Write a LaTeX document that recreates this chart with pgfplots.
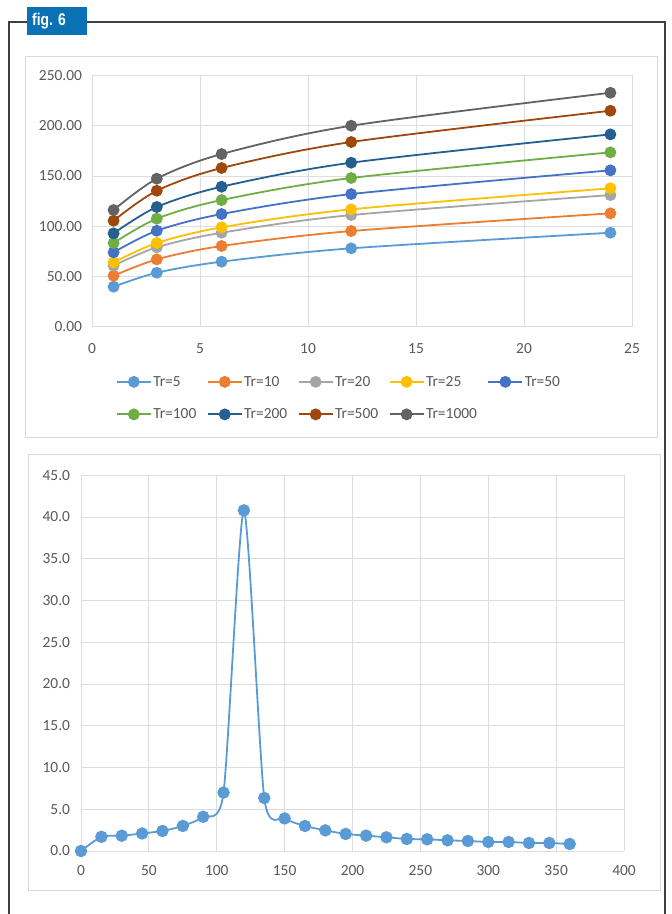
\documentclass[border=0pt]{standalone}
\usepackage{fontspec}
\setmainfont{Carlito}
\newfontfamily\figfont[FakeStretch=0.82]{Liberation Sans}
\usepackage{pgfplots}
\pgfplotsset{compat=1.18}
\definecolor{cA}{HTML}{5B9BD5}
\definecolor{cB}{HTML}{ED7D31}
\definecolor{cC}{HTML}{A5A5A5}
\definecolor{cD}{HTML}{FFC000}
\definecolor{cE}{HTML}{4472C4}
\definecolor{cF}{HTML}{70AD47}
\definecolor{cG}{HTML}{255E91}
\definecolor{cH}{HTML}{9E480E}
\definecolor{cI}{HTML}{636363}
\definecolor{gridgray}{HTML}{DDDDDD}
\definecolor{labgray}{HTML}{595959}
\definecolor{panelgray}{HTML}{D9D9D9}
\definecolor{framegray}{HTML}{404040}
\definecolor{figblue}{HTML}{0A72B4}
\pgfplotsset{
  exstyle/.style={
    scale only axis, clip=false,
    axis line style={draw=none},
    grid=major,
    major grid style={draw=gridgray, line width=0.9bp},
    major tick length=0pt,
    tick style={draw=none},
    ticklabel style={font=\fontsize{15.5}{18}\selectfont, text=labgray},
    /pgf/number format/assume math mode=true,
  },
}
\begin{document}
\begin{tikzpicture}
\path[use as bounding box] (0,0) rectangle (672bp,914bp);
% outer frame
\draw[line width=2bp, framegray] (9bp,-10bp) -- (9bp,892bp) -- (665bp,892bp) -- (665bp,-10bp);
\fill[figblue] (27bp,879bp) rectangle (87bp,907bp);
\node[anchor=west, text=white, font=\figfont\bfseries\fontsize{17}{19}\selectfont, inner sep=0] at (32bp,893bp) {fig. 6};
% panels
\draw[panelgray, line width=1bp, fill=white] (25bp,476bp) rectangle (657bp,857bp);
\draw[panelgray, line width=1bp, fill=white] (28bp,23bp) rectangle (660bp,459bp);

\begin{axis}[exstyle,
  at={(92bp,587.3bp)}, anchor=south west,
  width=540bp, height=251.2bp,
  xmin=0, xmax=25, ymin=0, ymax=250,
  xtick={0,5,...,25}, ytick={0,50,...,250},
  y tick label style={/pgf/number format/fixed, /pgf/number format/fixed zerofill, /pgf/number format/precision=2, xshift=-6.5bp},
  x tick label style={yshift=-13bp},
  legend columns=5,
  legend cell align=left,
  legend image code/.code={\draw[mark repeat=2,mark phase=2,#1] plot coordinates {(0bp,0bp) (17bp,0bp) (34bp,0bp)};},
  legend style={at={(axis description cs:0.044,-0.19)}, anchor=north west, draw=none, fill=none, inner sep=0pt,
    font=\fontsize{15.5}{18}\selectfont, text=labgray, row sep=18bp,
    nodes={inner sep=1.5bp},
    /tikz/every even column/.append style={column sep=9bp}},
]
\addplot[cA, line width=1.8bp, smooth, mark=*, mark size=5bp, mark options={fill=cA, draw=cA}] coordinates {(1,39.8)(3,53.7)(6,64.7)(12,78.0)(24,93.5)};
\addlegendentry{Tr=5}
\addplot[cB, line width=1.8bp, smooth, mark=*, mark size=5bp, mark options={fill=cB, draw=cB}] coordinates {(1,50.7)(3,67.0)(6,80.3)(12,95.2)(24,112.8)};
\addlegendentry{Tr=10}
\addplot[cC, line width=1.8bp, smooth, mark=*, mark size=5bp, mark options={fill=cC, draw=cC}] coordinates {(1,60.7)(3,79.0)(6,93.5)(12,111.1)(24,131.0)};
\addlegendentry{Tr=20}
\addplot[cD, line width=1.8bp, smooth, mark=*, mark size=5bp, mark options={fill=cD, draw=cD}] coordinates {(1,64.0)(3,83.3)(6,98.9)(12,116.8)(24,137.7)};
\addlegendentry{Tr=25}
\addplot[cE, line width=1.8bp, smooth, mark=*, mark size=5bp, mark options={fill=cE, draw=cE}] coordinates {(1,74.0)(3,95.5)(6,112.1)(12,132.0)(24,155.6)};
\addlegendentry{Tr=50}
\addplot[cF, line width=1.8bp, smooth, mark=*, mark size=5bp, mark options={fill=cF, draw=cF}] coordinates {(1,83.3)(3,107.5)(6,126.0)(12,148.0)(24,173.5)};
\addlegendentry{Tr=100}
\addplot[cG, line width=1.8bp, smooth, mark=*, mark size=5bp, mark options={fill=cG, draw=cG}] coordinates {(1,92.9)(3,119.1)(6,139.3)(12,163.2)(24,191.4)};
\addlegendentry{Tr=200}
\addplot[cH, line width=1.8bp, smooth, mark=*, mark size=5bp, mark options={fill=cH, draw=cH}] coordinates {(1,105.5)(3,135.3)(6,157.9)(12,183.8)(24,214.9)};
\addlegendentry{Tr=500}
\addplot[cI, line width=1.8bp, smooth, mark=*, mark size=5bp, mark options={fill=cI, draw=cI}] coordinates {(1,116.1)(3,147.3)(6,171.8)(12,200.0)(24,232.8)};
\addlegendentry{Tr=1000}
\end{axis}

\begin{axis}[exstyle,
  at={(81bp,63bp)}, anchor=south west,
  width=543bp, height=375.7bp,
  xmin=0, xmax=400, ymin=0, ymax=45,
  xtick={0,50,...,400}, ytick={0,5,...,45},
  y tick label style={/pgf/number format/fixed, /pgf/number format/fixed zerofill, /pgf/number format/precision=1, xshift=-7.5bp},
  x tick label style={yshift=-10.5bp},
]
\addplot[cA, line width=1.8bp, smooth, tension=0.4, mark=*, mark size=5.3bp, mark options={fill=cA, draw=cA}] coordinates {
(0,0.0)(15,1.7)(30,1.83)(45,2.1)(60,2.4)(75,3.0)(90,4.1)(105,7.0)(120,40.8)(135,6.35)
(150,3.9)(165,3.0)(180,2.47)(195,2.04)(210,1.84)(225,1.64)(240,1.44)(255,1.4)(270,1.28)
(285,1.2)(300,1.08)(315,1.08)(330,0.96)(345,0.96)(360,0.84)};
\end{axis}
\end{tikzpicture}
\end{document}
